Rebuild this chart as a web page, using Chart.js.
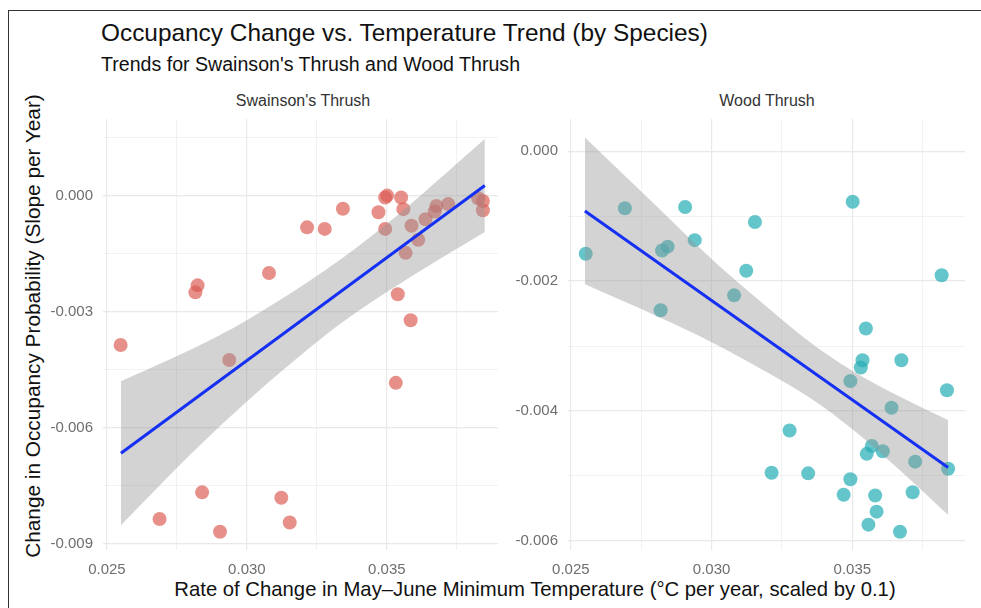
<!DOCTYPE html>
<html>
<head>
<meta charset="utf-8">
<script src="https://cdn.jsdelivr.net/npm/chart.js@4.4.0/dist/chart.umd.min.js"></script>
<style>
  html, body { margin:0; padding:0; background:#fff; }
  body { width:981px; height:608px; position:relative; overflow:hidden; font-family:"Liberation Sans", Arial, sans-serif; }
  .frame { position:absolute; left:8px; top:10px; right:-10px; bottom:-10px; border-top:1.5px solid #333; border-left:1.5px solid #333; }
  .txt { position:absolute; white-space:nowrap; line-height:1; }
  #title { left:101px; top:20.5px; font-size:24.4px; color:#111; }
  #subtitle { left:101px; top:55px; font-size:19.6px; color:#111; }
  .strip { top:93px; font-size:16px; color:#333; transform:translateX(-50%); }
  #ytitle { left:33px; top:326px; font-size:20.8px; color:#111; transform:translate(-50%,-50%) rotate(-90deg); }
  #xtitle { left:535px; top:589px; font-size:20.3px; color:#111; transform:translate(-50%,-50%); }
  canvas { position:absolute; }
</style>
</head>
<body>
<div class="frame"></div>
<div class="txt" id="title">Occupancy Change vs. Temperature Trend (by Species)</div>
<div class="txt" id="subtitle">Trends for Swainson's Thrush and Wood Thrush</div>
<div class="txt strip" style="left:303px;">Swainson's Thrush</div>
<div class="txt strip" style="left:767px;">Wood Thrush</div>
<div class="txt" id="ytitle">Change in Occupancy Probability (Slope per Year)</div>
<div class="txt" id="xtitle">Rate of Change in May–June Minimum Temperature (°C per year, scaled by 0.1)</div>

<canvas id="swainson" width="465" height="468" style="left:40px; top:112px;"></canvas>
<canvas id="wood" width="467" height="468" style="left:505px; top:112px;"></canvas>

<script>
// Swainson's Thrush points
const swX = [0.02549, 0.02816, 0.02824, 0.02688, 0.02840, 0.02904, 0.02937, 0.03079, 0.03123, 0.03153,
             0.03215, 0.03278, 0.03343, 0.03470, 0.03494, 0.03501, 0.03494, 0.03551, 0.03559, 0.03588,
             0.03612, 0.03567, 0.03638, 0.03677, 0.03671, 0.03719, 0.03826, 0.03843, 0.03843, 0.03539,
             0.03585, 0.03532];
const swY = [-0.00386, -0.00250, -0.00232, -0.00836, -0.00767, -0.00869, -0.00425, -0.00200, -0.00781, -0.00845,
             -0.00082, -0.00086, -0.00034, -0.00043, -0.00005, 0.00000, -0.00086, -0.00005, -0.00035, -0.00078,
             -0.00114, -0.00148, -0.00061, -0.00027, -0.00041, -0.00022, -0.00007, -0.00014, -0.00038, -0.00255,
             -0.00322, -0.00484];

// Wood Thrush points
const wtX = [0.02553, 0.02692, 0.02824, 0.02844, 0.02819, 0.02906, 0.02940, 0.03080, 0.03123, 0.03154,
             0.03213, 0.03277, 0.03343, 0.03469, 0.03493, 0.03493, 0.03501, 0.03530, 0.03536, 0.03548,
             0.03551, 0.03557, 0.03569, 0.03581, 0.03586, 0.03608, 0.03639, 0.03669, 0.03674, 0.03714,
             0.03723, 0.03817, 0.03836, 0.03840];
const wtY = [-0.00158, -0.00088, -0.00153, -0.00147, -0.00245, -0.00086, -0.00137, -0.00222, -0.00184, -0.00109,
             -0.00495, -0.00430, -0.00496, -0.00529, -0.00505, -0.00354, -0.00078, -0.00333, -0.00322, -0.00273,
             -0.00466, -0.00575, -0.00454, -0.00530, -0.00555, -0.00462, -0.00395, -0.00586, -0.00322, -0.00525,
             -0.00478, -0.00191, -0.00368, -0.00489];

// fitted line + confidence band
const swFitX   = [0.0255, 0.0385];
const swFitY   = [-0.00666, 0.00026];
const swBandX  = [0.0255, 0.0280, 0.0300, 0.0320, 0.0335, 0.0350, 0.0365, 0.0385];
const swUpper  = [-0.00480, -0.00398, -0.00322, -0.00232, -0.00157, -0.00073, 0.00019, 0.00146];
const swLower  = [-0.00852, -0.00668, -0.00532, -0.00408, -0.00323, -0.00249, -0.00181, -0.00094];

const wtFitX   = [0.0255, 0.0384];
const wtFitY   = [-0.00092, -0.00487];
const wtBandX  = [0.0255, 0.0280, 0.0300, 0.0320, 0.0335, 0.0350, 0.0365, 0.0384];
const wtUpper  = [0.00021, -0.00083, -0.00166, -0.00241, -0.00294, -0.00338, -0.00374, -0.00414];
const wtLower  = [-0.00205, -0.00253, -0.00294, -0.00341, -0.00380, -0.00428, -0.00484, -0.00560];

const xTicks = { step: 0.0025, major: 0.005 };
const swYTicks = { step: 0.0015, major: 0.003 };
const wtYTicks = { step: 0.001, major: 0.002 };

const pairs = (xs, ys) => xs.map((x, i) => ({ x: x, y: ys[i] }));
const isMajor = (v, m) => Math.abs(v / m - Math.round(v / m)) < 1e-6;

function makeFacet(id, px, py, fx, fy, bx, bu, bl, pointColor, xr, yr, yt) {
    const gridOpts = (m) => ({
        color: '#ebe8ea',
        lineWidth: (c) => isMajor(c.tick.value, m) ? 1.2 : 0.6,
        drawTicks: false
    });
    new Chart(document.getElementById(id), {
        type: 'scatter',
        data: {
            datasets: [
                { data: pairs(px, py), backgroundColor: pointColor, borderWidth: 0, pointRadius: 7, order: 3 },
                { type: 'line', data: pairs(bx, bl), borderWidth: 0, pointRadius: 0, fill: false, tension: 0.35, order: 2 },
                { type: 'line', data: pairs(bx, bu), borderWidth: 0, pointRadius: 0, fill: '-1', tension: 0.35,
                  backgroundColor: 'rgba(150,150,150,0.42)', order: 2 },
                { type: 'line', data: pairs(fx, fy), borderColor: '#1530f2', borderWidth: 3, pointRadius: 0, fill: false, order: 1 }
            ]
        },
        options: {
            responsive: false,
            animation: false,
            layout: { padding: { top: 5, right: 5, left: 0, bottom: 0 } },
            plugins: { legend: { display: false }, tooltip: { enabled: false } },
            scales: {
                x: {
                    type: 'linear', min: xr[0], max: xr[1],
                    afterFit: (s) => { s.height = 30; s.paddingLeft = 0; s.paddingRight = 0; },
                    grid: gridOpts(xTicks.major),
                    border: { display: false },
                    ticks: {
                        stepSize: xTicks.step, includeBounds: false, autoSkip: false, maxRotation: 0,
                        padding: 11, color: '#6e6e6e',
                        font: { family: 'Liberation Sans', size: 15 },
                        callback: (v) => isMajor(v, xTicks.major) ? v.toFixed(3) : ''
                    }
                },
                y: {
                    type: 'linear', min: yr[0], max: yr[1],
                    afterFit: (s) => { s.width = 63; s.paddingTop = 0; s.paddingBottom = 0; },
                    grid: gridOpts(yt.major),
                    border: { display: false },
                    ticks: {
                        stepSize: yt.step, includeBounds: false, autoSkip: false,
                        padding: 10, color: '#6e6e6e',
                        font: { family: 'Liberation Sans', size: 15 },
                        callback: (v) => isMajor(v, yt.major) ? (Math.abs(v) < 1e-9 ? '0.000' : v.toFixed(3)) : ''
                    }
                }
            }
        }
    });
}

makeFacet('swainson', swX, swY, swFitX, swFitY, swBandX, swUpper, swLower,
          'rgba(220,92,82,0.68)', [0.02486, 0.03897], [-0.00916, 0.00198], swYTicks);
makeFacet('wood', wtX, wtY, wtFitX, wtFitY, wtBandX, wtUpper, wtLower,
          'rgba(40,175,182,0.72)', [0.02490, 0.03900], [-0.00614, 0.000495], wtYTicks);
</script>
</body>
</html>
